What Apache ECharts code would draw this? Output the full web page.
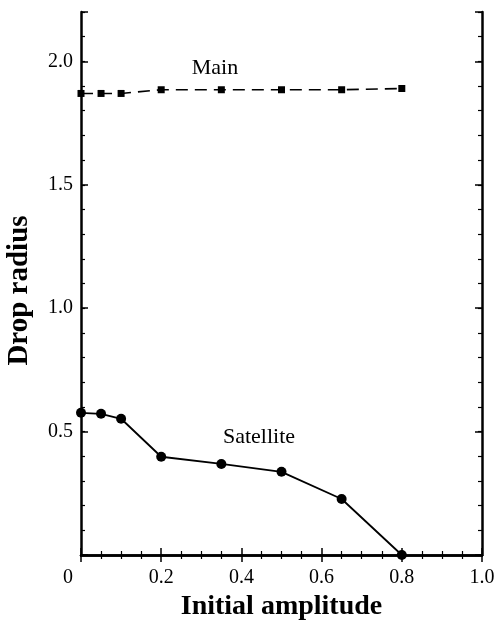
<!DOCTYPE html>
<html>
<head>
<meta charset="utf-8">
<script src="https://cdn.jsdelivr.net/npm/echarts@6/dist/echarts.min.js"></script>
<style>html,body{margin:0;padding:0;background:#fff;}#c{width:498px;height:625px;}</style>
</head>
<body>
<div id="c"></div>
<script>
var amplitudes = [0, 0.05, 0.1, 0.2, 0.35, 0.5, 0.65, 0.8];
var mainRadius = [1.87, 1.87, 1.87, 1.885, 1.885, 1.885, 1.885, 1.89];
var satelliteRadius = [0.576, 0.572, 0.552, 0.398, 0.369, 0.337, 0.227, 0.0];
var xTitle = 'Initial amplitude';
var yTitle = 'Drop radius';
var seriesNames = ['Main', 'Satellite'];

var FONT = '"Liberation Serif", "Times New Roman", serif';
function pairs(xs, ys) { return xs.map(function (x, i) { return [x, ys[i]]; }); }

var axisLine = { show: true, lineStyle: { color: '#000', width: 2.5 } };
function xAx(pos, labels) {
  return {
    type: 'value', position: pos, min: 0, max: 1, interval: 0.2,
    axisLine: axisLine,
    axisTick: { show: true, inside: true, length: 7, lineStyle: { color: '#000', width: 1.5 } },
    minorTick: { show: true, splitNumber: 4, length: 4, lineStyle: { color: '#000', width: 1.2 } },
    splitLine: { show: false }, minorSplitLine: { show: false },
    axisLabel: labels ? {
      show: true, margin: 13, color: '#000', fontFamily: FONT, fontSize: 20,
      formatter: function (v) { return v === 0 ? '{z|0}' : v.toFixed(1); },
      rich: { z: { fontFamily: FONT, fontSize: 20, color: '#000', padding: [0, 26, 0, 0] } }
    } : { show: false },
    name: labels ? xTitle : '', nameLocation: 'middle', nameGap: 35,
    nameTextStyle: { fontFamily: FONT, fontSize: 28, fontWeight: 'bold', color: '#000' }
  };
}
function yAx(pos, interval, len, labels, line) {
  return {
    type: 'value', position: pos, min: 0, max: 2.2, interval: interval,
    axisLine: line ? axisLine : { show: false },
    axisTick: { show: true, inside: true, length: len, lineStyle: { color: '#000', width: len > 5 ? 1.5 : 1.2 } },
    splitLine: { show: false },
    axisLabel: labels ? {
      show: true, margin: 8, color: '#000', fontFamily: FONT, fontSize: 20,
      formatter: function (v) { return (v === 0 || v > 2.1) ? '' : v.toFixed(1); }
    } : { show: false },
    name: labels ? yTitle : '', nameLocation: 'middle', nameGap: 47,
    nameTextStyle: { fontFamily: FONT, fontSize: 29, fontWeight: 'bold', color: '#000', padding: [0, 0, 0, -14] }
  };
}

var chart = echarts.init(document.getElementById('c'), null, { renderer: 'canvas' });
chart.setOption({
  animation: false,
  backgroundColor: '#fff',
  grid: { left: 81, right: 16, top: 12, bottom: 70, containLabel: false, outerBoundsMode: 'none' },
  xAxis: [xAx('bottom', true), xAx('top', false)],
  yAxis: [
    yAx('left', 0.5, 7, true, true),
    yAx('left', 0.1, 4, false, false),
    yAx('right', 0.5, 7, false, true),
    yAx('right', 0.1, 4, false, false)
  ],
  series: [
    {
      name: seriesNames[0], type: 'line', xAxisIndex: 0, yAxisIndex: 0,
      data: pairs(amplitudes, mainRadius), clip: false,
      symbol: 'rect', symbolSize: 7, itemStyle: { color: '#000' },
      lineStyle: { color: '#000', width: 1.6, type: [12, 7] }
    },
    {
      name: seriesNames[1], type: 'line', xAxisIndex: 0, yAxisIndex: 0,
      data: pairs(amplitudes, satelliteRadius), clip: false,
      symbol: 'circle', symbolSize: 10, itemStyle: { color: '#000' },
      lineStyle: { color: '#000', width: 1.8 }
    }
  ],
  graphic: [
    { type: 'text', x: 215, y: 68, style: { text: seriesNames[0], font: '22px ' + FONT, fill: '#000', align: 'center', verticalAlign: 'middle' } },
    { type: 'text', x: 259, y: 437, style: { text: seriesNames[1], font: '22px ' + FONT, fill: '#000', align: 'center', verticalAlign: 'middle' } }
  ]
});
</script>
</body>
</html>
